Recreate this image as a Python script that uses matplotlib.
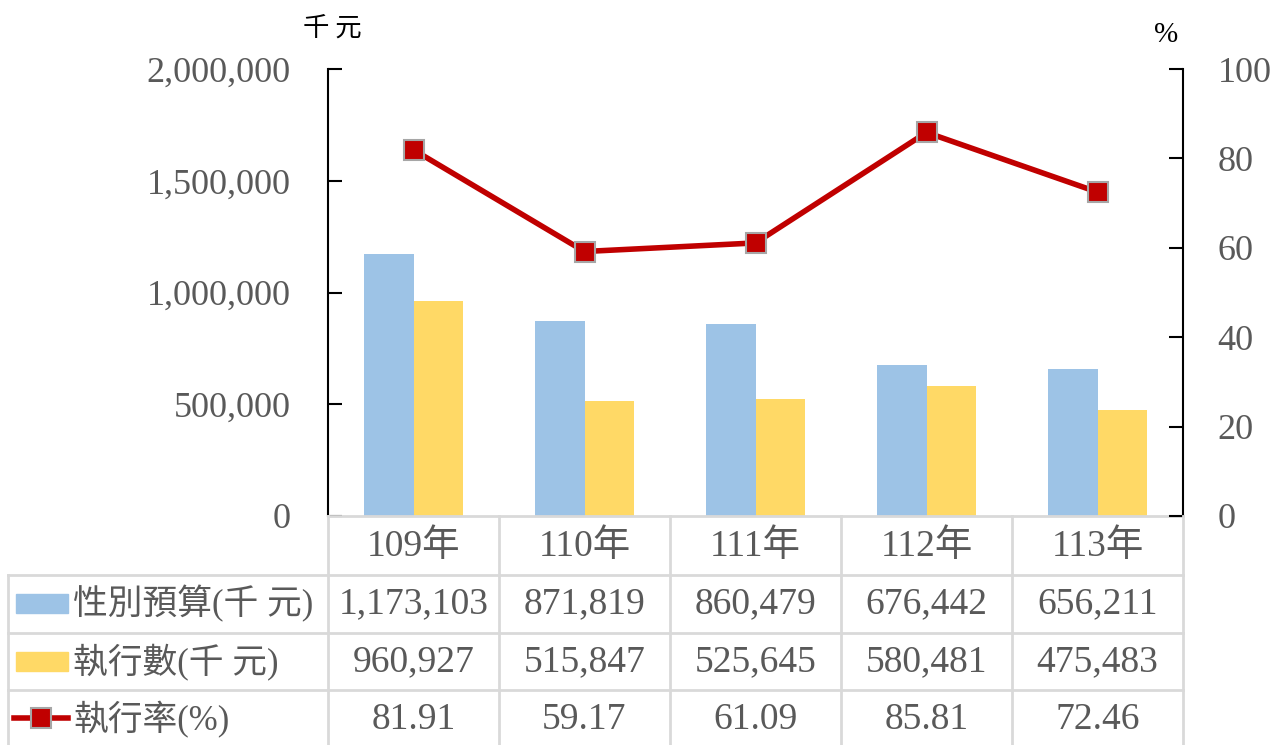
import matplotlib.pyplot as plt
from matplotlib.lines import Line2D
from matplotlib.patches import Rectangle

years = ['109年', '110年', '111年', '112年', '113年']
budget = [1173103, 871819, 860479, 676442, 656211]
spent = [960927, 515847, 525645, 580481, 475483]
rate = [81.91, 59.17, 61.09, 85.81, 72.46]
row_names = ['性別預算(千 元)', '執行數(千 元)', '執行率(%)']

BLUE = '#9DC3E6'
YELLOW = '#FFD966'
RED = '#C00000'
GRAY = '#595959'
GRID = '#D9D9D9'
FONT = ['Liberation Serif', 'Noto Sans CJK TC']

plt.rcParams['font.family'] = FONT

W, H = 1288, 745
fig = plt.figure(figsize=(W / 100, H / 100), dpi=100)
x0, x1, y0, y1 = 328, 1183, 516, 69
ax = fig.add_axes([x0 / W, 1 - y0 / H, (x1 - x0) / W, (y0 - y1) / H])

n = len(years)
xs = list(range(n))
bw = 0.287
ax.bar([x - bw / 2 for x in xs], budget, bw, color=BLUE, zorder=2)
ax.bar([x + bw / 2 for x in xs], spent, bw, color=YELLOW, zorder=2)
ax.set_xlim(-0.5, n - 0.5)
ax.set_ylim(0, 2000000)
ax.set_yticks([0, 500000, 1000000, 1500000, 2000000])
ax.set_yticklabels(['{:,}'.format(v) for v in ax.get_yticks().astype(int)])
ax.set_xticks([])
ax.tick_params(axis='y', direction='in', length=10, width=1.5, labelsize=26,
               labelcolor=GRAY, pad=27)
for s in ['top', 'right']:
    ax.spines[s].set_visible(False)
ax.spines['left'].set_linewidth(1.5)
ax.spines['bottom'].set_color(GRID)
ax.spines['bottom'].set_linewidth(2)

ax2 = ax.twinx()
ax2.plot(xs, rate, color=RED, lw=4, marker='s', ms=15, mfc=RED, mec='#A6A6A6',
         mew=1.5, zorder=3)
ax2.set_ylim(0, 100)
ax2.set_yticks([0, 20, 40, 60, 80, 100])
ax2.tick_params(axis='y', direction='in', length=10, width=1.5, labelsize=26,
                labelcolor=GRAY, pad=25)
for s in ['top', 'left', 'bottom']:
    ax2.spines[s].set_visible(False)
ax2.spines['right'].set_linewidth(1.5)

fig.text(332 / W, 1 - 28 / H, '千 元', ha='center', va='center', fontsize=19,
         family=['Noto Sans CJK TC'])
fig.text(1166 / W, 1 - 35 / H, '%', ha='center', va='center', fontsize=21)

# data table below the plot, drawn in pixel coordinates of the figure
def px(x, y):
    return x / W, 1 - y / H

col_edges = [x0 + i * (x1 - x0) / n for i in range(n + 1)]
row_edges = [516, 575, 633, 690, 750]
lw = 2
for xe in col_edges:
    fig.add_artist(Line2D([xe / W, xe / W], [1 - 516 / H, 0], color=GRID, lw=lw))
fig.add_artist(Line2D([8 / W, 8 / W], [1 - 575 / H, 0], color=GRID, lw=lw))
for ye in row_edges[1:4]:
    fig.add_artist(Line2D([8 / W, x1 / W], [1 - ye / H] * 2, color=GRID, lw=lw))

for i, y in enumerate(years):
    cx = (col_edges[i] + col_edges[i + 1]) / 2
    fig.text(*px(cx, 547), y, ha='center', va='center', fontsize=27, color=GRAY)

rows = [['{:,}'.format(v) for v in budget],
        ['{:,}'.format(v) for v in spent],
        ['{:.2f}'.format(v) for v in rate]]
for r, vals in enumerate(rows):
    cy = (row_edges[r + 1] + row_edges[r + 2]) / 2
    for i, v in enumerate(vals):
        cx = (col_edges[i] + col_edges[i + 1]) / 2
        fig.text(*px(cx, cy), v, ha='center', va='center', fontsize=27, color=GRAY)
    fig.text(*px(73, cy), row_names[r], ha='left', va='center', fontsize=25,
             color=GRAY)

# legend keys
for r, c in enumerate([BLUE, YELLOW]):
    cy = (row_edges[r + 1] + row_edges[r + 2]) / 2
    fig.add_artist(Rectangle(px(16, cy + 9), 52 / W, 19 / H, color=c))
cy = (row_edges[3] + row_edges[4]) / 2 - 2
fig.add_artist(Line2D([14 / W, 68 / W], [1 - cy / H] * 2, color=RED, lw=4))
fig.add_artist(Line2D([41 / W], [1 - cy / H], marker='s', ms=15, mfc=RED,
                      mec='#A6A6A6', mew=1.5))

fig.savefig('out.png', dpi=100)
